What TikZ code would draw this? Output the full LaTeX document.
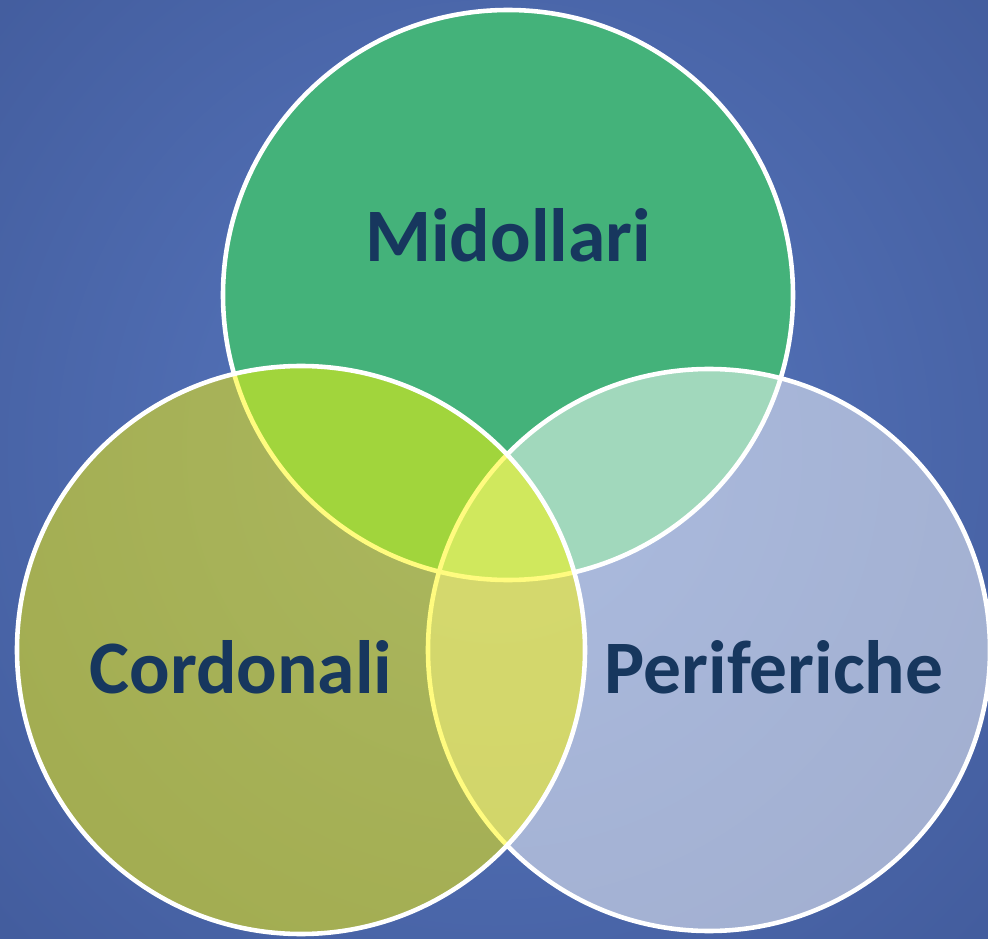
\documentclass[tikz,border=0pt]{standalone}
\usepackage{fontspec}
\setmainfont{Carlito}
\usepackage{xcolor}
\usetikzlibrary{calc}
\definecolor{bgin}{HTML}{5878C0}
\definecolor{bgout}{HTML}{3D5594}
\definecolor{midgreen}{HTML}{44B27A}
\definecolor{cordyellow}{HTML}{FFF800}
\definecolor{labtext}{HTML}{17375E}
\tikzset{
  ring/.style={draw=white, line width=2.6pt},
  lab/.style={text=labtext, font=\bfseries\fontsize{43}{50}\selectfont, anchor=base, inner sep=0pt},
}

\begin{document}
\begin{tikzpicture}[x=0.02cm, y=-0.02cm]
  \useasboundingbox (0,0) rectangle (988,939);
  \begin{scope}
    \clip (0,0) rectangle (988,939);
    \shade[inner color=bgin, outer color=bgout] (-380,-450) rectangle (1368,1349);
  \end{scope}

  \coordinate (midc) at (508,295);
  \coordinate (peric) at (709,650);
  \coordinate (cordc) at (301,650);

  % top circle, opaque
  \fill[midgreen] (midc) circle[radius=285];
  \draw[ring] (midc) circle[radius=285];

  % right circle, half white
  \fill[white, fill opacity=0.5] (peric) circle[radius=281];
  \draw[ring] (peric) circle[radius=281];

  % left circle on top, half yellow
  \fill[cordyellow, fill opacity=0.5] (cordc) circle[radius=284];
  \draw[ring] (cordc) circle[radius=284];

  \node[lab] (midlab) at (508,262) {Midollari};
  \node[lab] (cordlab) at (241,693) {Cordonali};
  \node[lab] (perilab) at (774,693) {Periferiche};
\end{tikzpicture}
\end{document}
